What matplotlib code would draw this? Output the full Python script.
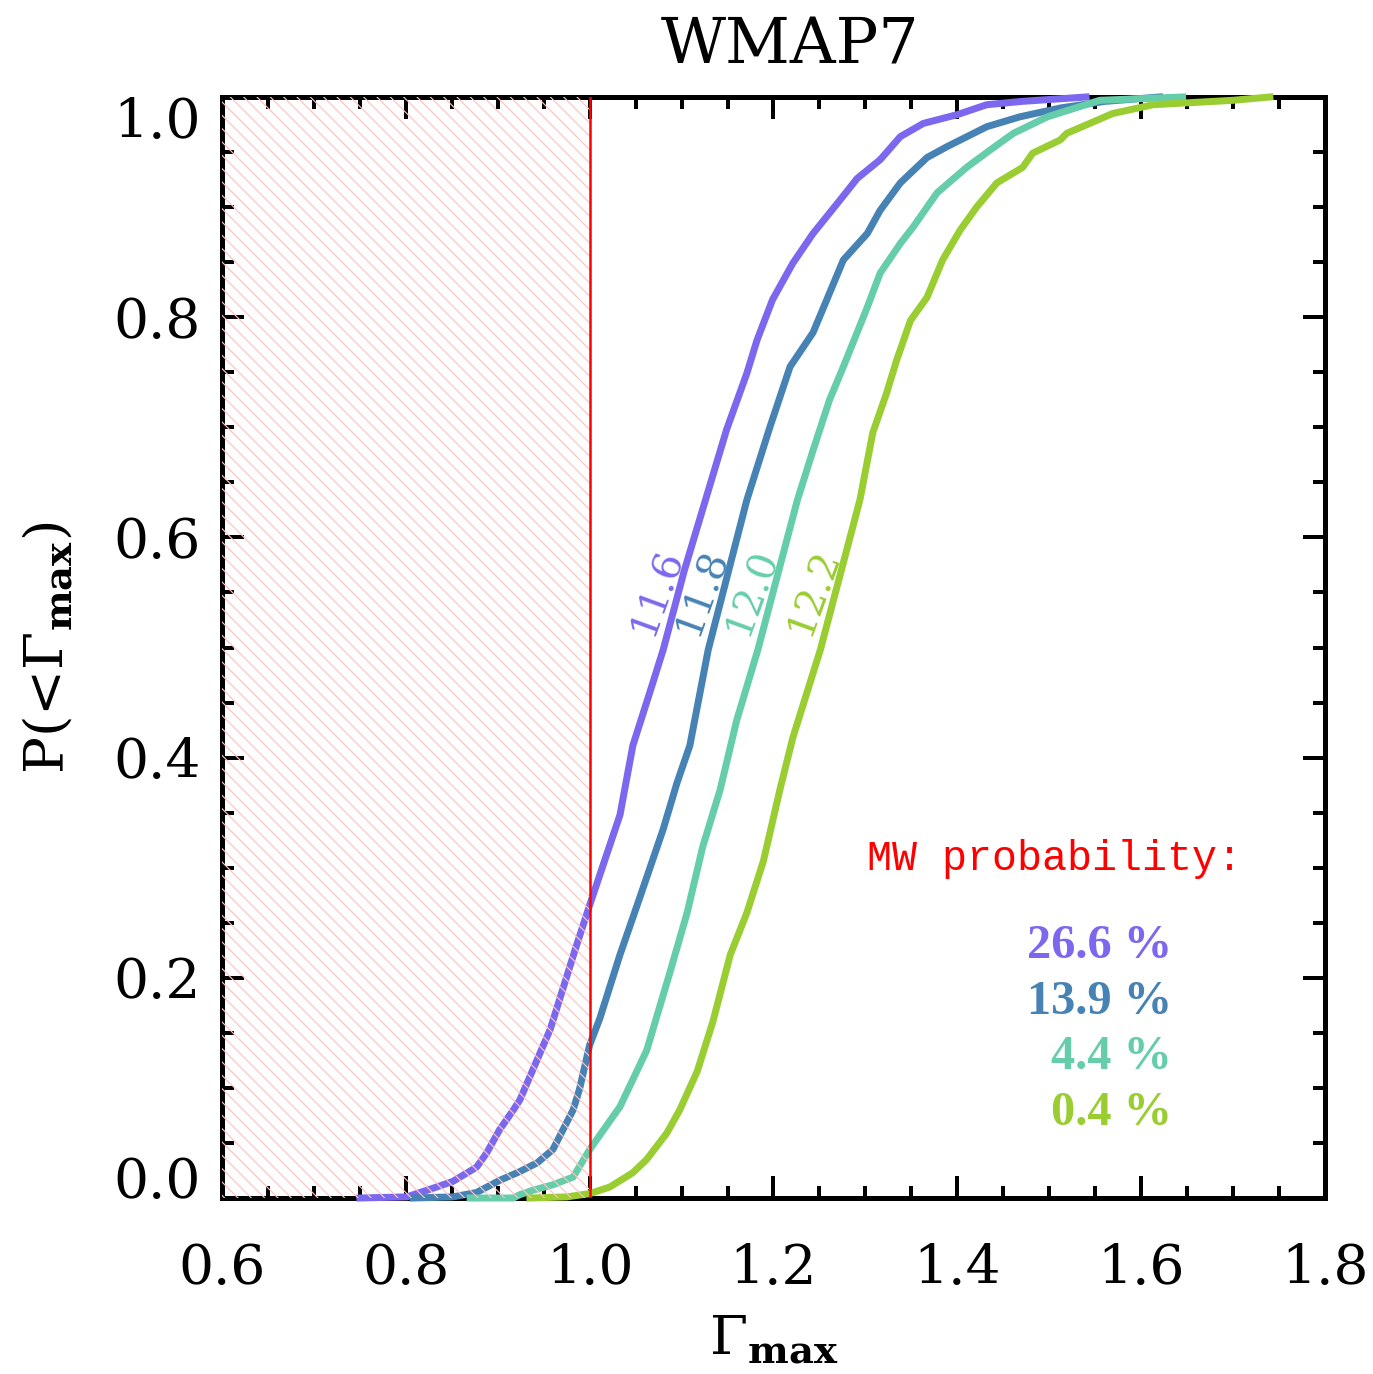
import numpy as np
import matplotlib
matplotlib.use('Agg')
import matplotlib.pyplot as plt
from matplotlib.ticker import MultipleLocator

# ---------------- data ----------------
masses = ['11.6', '11.8', '12.0', '12.2']
colors = ['#7B68EE', '#4682B4', '#66CDAA', '#9ACD32']
probs = ['26.6 %', '13.9 %', '4.4 %', '0.4 %']

x_116 = [0.75, 0.801, 0.83, 0.851, 0.877, 0.888, 0.902, 0.917, 0.924, 0.957, 0.984, 1.0,
         1.033, 1.047, 1.068, 1.08, 1.103, 1.126, 1.149, 1.171, 1.182, 1.199, 1.221, 1.243,
         1.272, 1.291, 1.316, 1.338, 1.363, 1.4, 1.432, 1.47, 1.54]
y_116 = [0.0, 0.001, 0.009, 0.015, 0.028, 0.041, 0.062, 0.08, 0.089, 0.153, 0.225, 0.266,
         0.348, 0.411, 0.466, 0.498, 0.57, 0.634, 0.698, 0.749, 0.779, 0.816, 0.849, 0.876,
         0.906, 0.926, 0.943, 0.964, 0.976, 0.984, 0.993, 0.996, 1.0]

x_118 = [0.808, 0.851, 0.877, 0.902, 0.924, 0.943, 0.96, 0.971, 0.982, 0.989, 1.0, 1.011,
         1.033, 1.055, 1.08, 1.095, 1.109, 1.129, 1.171, 1.196, 1.218, 1.243, 1.258, 1.276,
         1.302, 1.316, 1.338, 1.367, 1.389, 1.432, 1.468, 1.512, 1.56, 1.62]
y_118 = [0.0, 0.001, 0.005, 0.016, 0.024, 0.032, 0.044, 0.062, 0.08, 0.099, 0.139, 0.163,
         0.221, 0.274, 0.335, 0.377, 0.411, 0.498, 0.634, 0.70, 0.755, 0.786, 0.816, 0.852,
         0.876, 0.897, 0.922, 0.945, 0.955, 0.973, 0.982, 0.99, 0.996, 1.0]

x_120 = [0.87, 0.917, 0.924, 0.938, 0.96, 0.982, 1.0, 1.033, 1.062, 1.087, 1.106, 1.123,
         1.142, 1.16, 1.183, 1.226, 1.243, 1.261, 1.276, 1.302, 1.316, 1.338, 1.352, 1.378,
         1.41, 1.436, 1.461, 1.498, 1.555, 1.645]
y_120 = [0.0, 0.0, 0.003, 0.007, 0.012, 0.019, 0.044, 0.083, 0.134, 0.204, 0.259, 0.319,
         0.371, 0.434, 0.498, 0.634, 0.679, 0.725, 0.755, 0.809, 0.84, 0.867, 0.882, 0.913,
         0.936, 0.952, 0.967, 0.982, 0.997, 1.0]

x_122 = [0.935, 0.975, 1.0, 1.022, 1.047, 1.062, 1.084, 1.098, 1.117, 1.134, 1.153, 1.171,
         1.189, 1.207, 1.221, 1.251, 1.294, 1.308, 1.323, 1.334, 1.349, 1.367, 1.384, 1.403,
         1.421, 1.443, 1.471, 1.482, 1.512, 1.519, 1.569, 1.613, 1.7, 1.74]
y_122 = [0.0, 0.001, 0.004, 0.01, 0.023, 0.035, 0.059, 0.08, 0.115, 0.16, 0.221, 0.259,
         0.306, 0.371, 0.418, 0.498, 0.634, 0.695, 0.731, 0.761, 0.797, 0.818, 0.852, 0.879,
         0.9, 0.922, 0.936, 0.949, 0.961, 0.967, 0.985, 0.993, 0.997, 1.0]

curves_x = [x_116, x_118, x_120, x_122]
curves_y = [y_116, y_118, y_120, y_122]

xticks = [0.6, 0.8, 1.0, 1.2, 1.4, 1.6, 1.8]
xtick_labels = ['0.6', '0.8', '1.0', '1.2', '1.4', '1.6', '1.8']
yticks = [0.0, 0.2, 0.4, 0.6, 0.8, 1.0]
ytick_labels = ['0.0', '0.2', '0.4', '0.6', '0.8', '1.0']
mw_limit = 1.0
title = 'WMAP7'

# ---------------- figure ----------------
plt.rcParams['font.family'] = ['DejaVu Serif']
plt.rcParams['mathtext.fontset'] = 'dejavuserif'
plt.rcParams['hatch.linewidth'] = 0.7

DPI = 120
fig = plt.figure(figsize=(1373 / DPI, 1374 / DPI), dpi=DPI)
ax = fig.add_axes([222 / 1373, 1 - 1198 / 1374, 1103 / 1373, 1101 / 1374])

# excluded region
ax.axvspan(0.6, mw_limit, facecolor='none', edgecolor='#FFC2C2', hatch='\\\\\\',
           linewidth=0, zorder=4)
ax.axvline(mw_limit, color='red', lw=1.5, zorder=5)

label_y = 0.55
for xs, ys, c, m in zip(curves_x, curves_y, colors, masses):
    ax.plot(xs, ys, color=c, lw=4.2, zorder=3, clip_on=False, solid_joinstyle='round')
    xl = np.interp(label_y, ys, xs) - 0.023
    ax.text(xl, label_y, m, rotation=70, rotation_mode='anchor', ha='center', va='center',
            color=c, fontsize=24, zorder=6)

ax.set_xlim(0.6, 1.8)
ax.set_ylim(0.0, 1.0)
ax.set_xticks(xticks, xtick_labels)
ax.set_yticks(yticks, ytick_labels)
ax.xaxis.set_minor_locator(MultipleLocator(0.05))
ax.yaxis.set_minor_locator(MultipleLocator(0.05))
ax.tick_params(which='both', direction='in', top=True, right=True, width=2.4, color='black')
ax.tick_params(which='major', length=13)
ax.tick_params(which='minor', length=7)
ax.tick_params(axis='x', which='major', pad=27, labelsize=33)
ax.tick_params(axis='y', which='major', pad=13, labelsize=33)
for s in ax.spines.values():
    s.set_linewidth(3)

ylabs = ax.get_yticklabels()
ylabs[0].set_va('baseline')
ylabs[-1].set_va('top')

ax.set_xlabel(r'$\Gamma_{\mathbf{max}}$', fontsize=33, va='center')
ax.xaxis.set_label_coords(0.5, (1198 - 1340) / 1101)
ax.set_ylabel(r'P(<$\Gamma_{\mathbf{max}}$)', fontsize=33, va='center')
ax.yaxis.set_label_coords((48 - 222) / 1103, 0.5)

fig.text(790 / 1373, 1 - 63 / 1374, title, ha='center', va='baseline', fontsize=38)

ax.text(0.5848, 0.298, 'MW probability:', transform=ax.transAxes, family='Liberation Mono',
        color='red', fontsize=25, ha='left', va='baseline')
for i, (p, c) in enumerate(zip(probs, colors)):
    ax.text(0.8613, 0.218 - 0.0506 * i, p, transform=ax.transAxes, ha='right', va='baseline',
            family='Liberation Serif', weight='bold', fontsize=29, color=c)

fig.savefig('out.png', dpi=DPI)
